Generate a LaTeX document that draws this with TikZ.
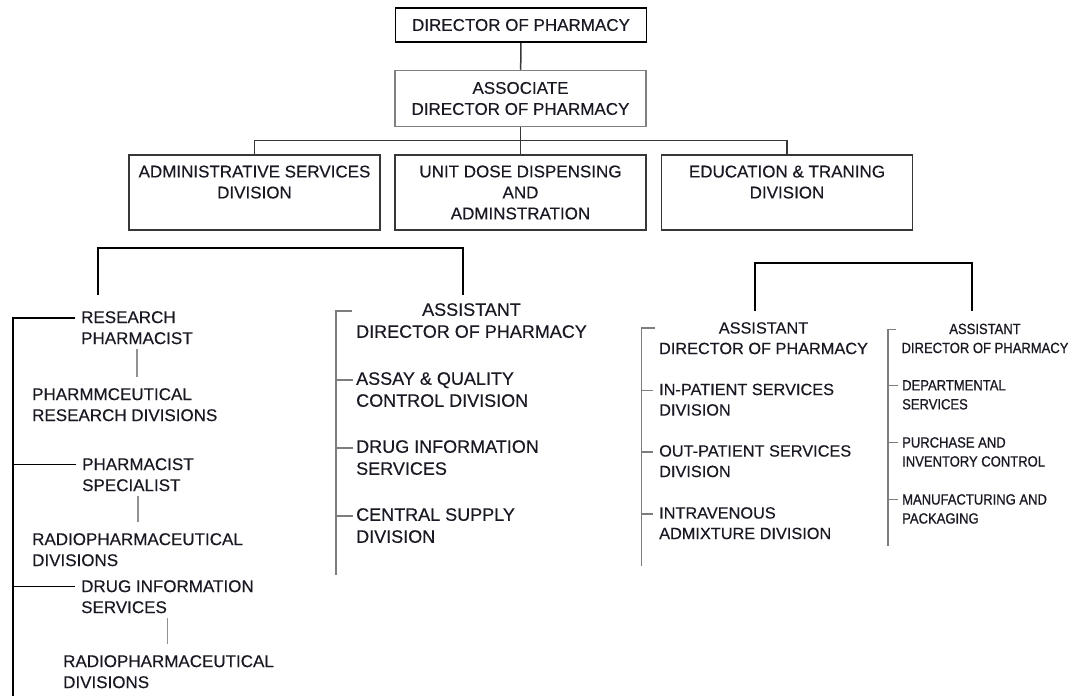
\documentclass[tikz,border=0pt]{standalone}
\usepackage{fontspec}
\setmainfont{Liberation Sans}[FakeBold=0.35]
\newfontfamily\narrowsans[FakeStretch=0.88,FakeBold=0.8]{Liberation Sans}
\usepackage{tikz}

\definecolor{inkgrey}{RGB}{55,55,55}
\definecolor{railgrey}{RGB}{125,125,125}
\definecolor{textink}{RGB}{25,25,35}

\tikzset{
  topbox/.style={draw=#1, line width=1.5pt, minimum width=251, minimum height=75, align=center, inner sep=0, text=textink, font=\fontsize{17}{21}\selectfont},
  leftlabel/.style={anchor=north west, inner sep=0, align=left, text=textink, font=\fontsize{17}{21}\selectfont},
  midlabel/.style={anchor=north west, inner sep=0, align=left, text=textink, font=\fontsize{18}{22}\selectfont},
  midhead/.style={midlabel, anchor=north, align=center},
  rmidlabel/.style={anchor=north west, inner sep=0, align=left, text=textink, font=\fontsize{16.3}{20.5}\selectfont},
  rmidhead/.style={rmidlabel, anchor=north, align=center},
  rightlabel/.style={anchor=north west, inner sep=0, align=left, text=textink, font=\narrowsans\fontsize{14.8}{19}\selectfont},
  righthead/.style={rightlabel, anchor=north, align=center},
  orgline/.style={line width=1.5pt, inkgrey},
  bracketline/.style={line width=2.3pt, black},
  trunkline/.style={line width=1.8pt, black},
  subline/.style={line width=1.7pt, railgrey!85},
  railline/.style={line width=1.6pt, railgrey},
}

\begin{document}
\begin{tikzpicture}[x=1pt,y=-1pt]
    \useasboundingbox (0,0) rectangle (1073,696);

    % Boxes
    \node[topbox=black, minimum height=34, line width=1.8pt] (director) at (521,25) {DIRECTOR OF PHARMACY};
    \node[topbox=gray, minimum height=56] (associate) at (520.5,98.5) {ASSOCIATE\\DIRECTOR OF PHARMACY};
    \node[topbox=inkgrey] (admin) at (254.5,192.5) {ADMINISTRATIVE SERVICES\\DIVISION\\\vphantom{D}};
    \node[topbox=inkgrey] (unitdose) at (520.5,192.5) {UNIT DOSE DISPENSING\\AND\\ADMINSTRATION};
    \node[topbox=inkgrey] (education) at (787,192.5) {EDUCATION \& TRANING\\DIVISION\\\vphantom{D}};

    %Straight Lines
    \draw[orgline] (director) -- (associate);
    \draw[orgline] (associate) -- (unitdose);
    \draw[orgline] (admin.north) -- ++(0,-14) -| (education.north);

    %Brackets
    \coordinate (adminleg) at (98,295);
    \coordinate (midleg) at (463,295);
    \coordinate (eduleg) at (755,311);
    \coordinate (stockleg) at (972,311);
    \draw[bracketline] (adminleg) -- ++(0,-47) -| (midleg);
    \draw[bracketline] (eduleg) -- ++(0,-48) -| (stockleg);

    % Text Node
    \node[leftlabel] (research) at (81,311) {RESEARCH\\PHARMACIST};
    % Text Node
    \node[leftlabel] (pharmres) at (32,388) {PHARMMCEUTICAL\\RESEARCH DIVISIONS};
    % Text Node
    \node[leftlabel] (specialist) at (82,458) {PHARMACIST\\SPECIALIST};
    % Text Node
    \node[leftlabel] (radioone) at (32,533) {RADIOPHARMACEUTICAL\\DIVISIONS};
    % Text Node
    \node[leftlabel] (druginfo) at (81,580) {DRUG INFORMATION\\SERVICES};
    % Text Node
    \node[leftlabel] (radiotwo) at (63,655) {RADIOPHARMACEUTICAL\\DIVISIONS};

    %Straight Lines
    \coordinate (trunkend) at (13,696);
    \draw[trunkline] ([xshift=-6,yshift=-7]research.north west) -| (trunkend);
    \foreach \n in {specialist,druginfo}
      \draw[trunkline] ([xshift=-6,yshift=-6.5]\n.north west) -- ([yshift=-6.5]\n.north west -| trunkend);
    \draw[subline] ([yshift=-5]research.south) -- ([yshift=11]research.south |- pharmres.north);
    \draw[subline] ([yshift=-5]specialist.south) -- ([yshift=11]specialist.south |- radioone.north);
    \draw[subline] ([yshift=-5]druginfo.south) -- ([yshift=11]druginfo.south |- radiotwo.north);

    % Text Node
    \node[midhead] (midhead) at (471.5,303) {ASSISTANT\\DIRECTOR OF PHARMACY};
    \node[midlabel] (assay) at (356,372) {ASSAY \& QUALITY\\CONTROL DIVISION};
    \node[midlabel] (midinfo) at (356,440) {DRUG INFORMATION\\SERVICES};
    \node[midlabel] (supply) at (356,508) {CENTRAL SUPPLY\\DIVISION};

    %Straight Lines
    \draw[railline] ([xshift=-4,yshift=-8]midhead.north west) -| ([xshift=-20,yshift=-32]supply.south west);
    \foreach \n in {assay,midinfo,supply}
      \draw[railline] ([xshift=-3,yshift=-8]\n.north west) -- ++(-17,0);

    % Text Node
    \node[rmidhead] (rmidhead) at (763.5,322) {ASSISTANT\\DIRECTOR OF PHARMACY};
    \node[rmidlabel] (inpat) at (659,383.5) {IN-PATIENT SERVICES\\DIVISION};
    \node[rmidlabel] (outpat) at (659,445) {OUT-PATIENT SERVICES\\DIVISION};
    \node[rmidlabel] (ivmix) at (659,507) {INTRAVENOUS\\ADMIXTURE DIVISION};

    %Straight Lines
    \draw[railline] ([xshift=-4,yshift=-6]rmidhead.north west) -| ([xshift=-17.5,yshift=-27]ivmix.south west);
    \foreach \n in {inpat,outpat,ivmix}
      \draw[railline] ([xshift=-6.5,yshift=-7]\n.north west) -- ++(-11,0);

    % Text Node
    \node[righthead] (righthead) at (985,323.5) {ASSISTANT\\DIRECTOR OF PHARMACY};
    \node[rightlabel] (dept) at (902,380) {DEPARTMENTAL\\SERVICES};
    \node[rightlabel] (purchase) at (902,437) {PURCHASE AND\\INVENTORY CONTROL};
    \node[rightlabel] (manuf) at (902,494) {MANUFACTURING AND\\PACKAGING};

    %Straight Lines
    \draw[railline, line width=1.4pt] ([xshift=-5,yshift=-6]righthead.north west) -| ([xshift=-14,yshift=-22]manuf.south west);
    \foreach \n in {dept,purchase,manuf}
      \draw[railline, line width=1.4pt] ([xshift=-4.5,yshift=-5.5]\n.north west) -- ++(-9.5,0);
\end{tikzpicture}
\end{document}
